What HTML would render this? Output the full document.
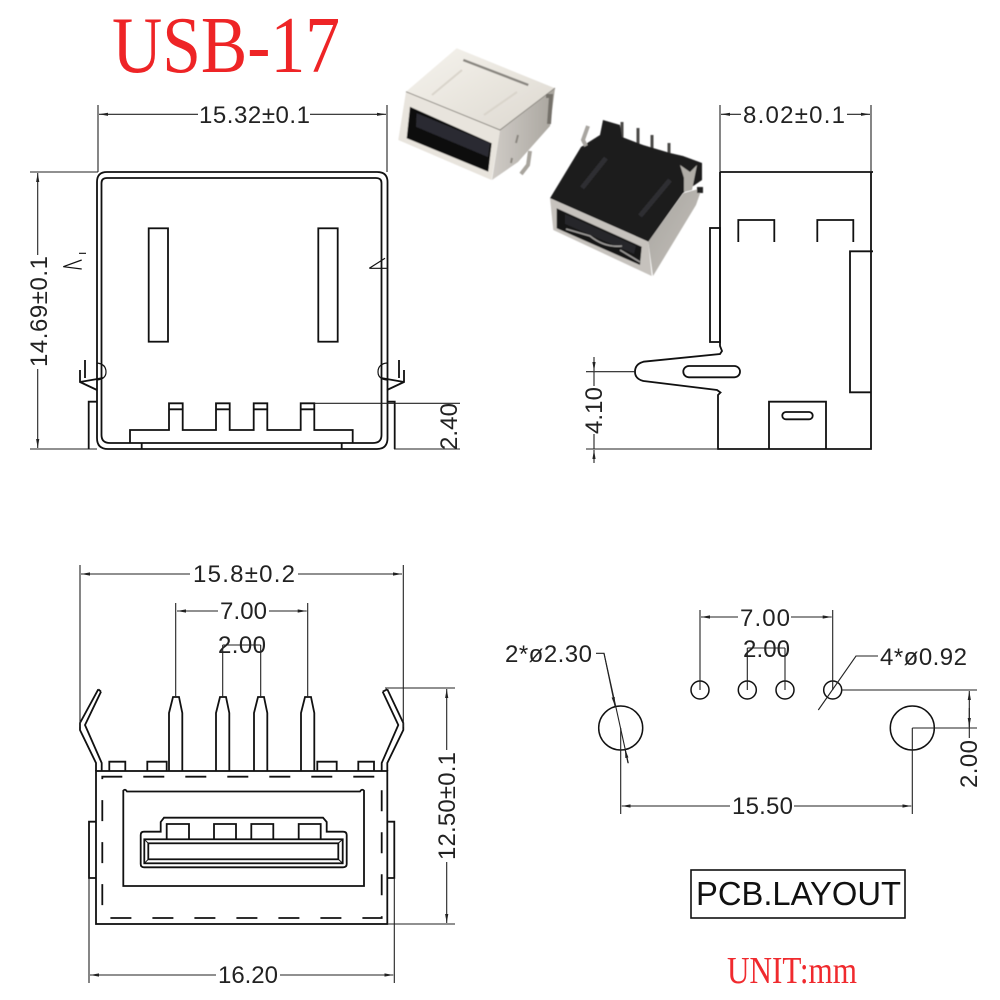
<!DOCTYPE html>
<html><head><meta charset="utf-8"><style>
html,body{margin:0;padding:0;background:#fff}
svg{display:block}
.m{fill:none;stroke:#111;stroke-width:1.8}
.t{fill:none;stroke:#222;stroke-width:1.1}
.ar{marker-end:url(#ah)}
.d{font-family:"Liberation Sans",sans-serif;font-size:24px;fill:#222}
</style></head><body>
<svg width="1000" height="1000" viewBox="0 0 1000 1000" xmlns="http://www.w3.org/2000/svg">
<defs>
<marker id="ah" markerUnits="userSpaceOnUse" markerWidth="10" markerHeight="6" refX="9" refY="2.5" orient="auto"><path d="M0 0.9L9 2.5L0 4.1z" fill="#222"/></marker>
<linearGradient id="s1" x1="0" y1="0" x2="1" y2="1"><stop offset="0" stop-color="#f6f3ed"/><stop offset="1" stop-color="#dcd8d0"/></linearGradient>
<linearGradient id="s2" x1="0" y1="0" x2="1" y2="1"><stop offset="0" stop-color="#a8a5a0"/><stop offset="1" stop-color="#c5c1bb"/></linearGradient>
<linearGradient id="s3" x1="0" y1="0" x2="1" y2="0"><stop offset="0" stop-color="#cfcbc6"/><stop offset="1" stop-color="#a9a59e"/></linearGradient>
<filter id="b" x="-5%" y="-5%" width="110%" height="110%"><feGaussianBlur stdDeviation="0.6"/></filter>
</defs>

<!-- title -->
<text x="112" y="72" textLength="228" lengthAdjust="spacingAndGlyphs" font-family="Liberation Serif,serif" font-size="80" fill="#ee2426">USB-17</text>

<!-- photo 1 -->
<g filter="url(#b)">
<polygon points="456.7,48.3 555,88.3 500,130 406,91.7" fill="url(#s1)"/>
<polygon points="406,91.7 500,130 491.5,180 398.3,140" fill="#e8e4dd"/>
<polygon points="500,130 555,88.3 550,126 518,162 492,180" fill="url(#s3)"/>
<polygon points="410,106.7 491.7,143.3 488.3,171.7 406.7,138.3" fill="#0f0f0f"/>
<polygon points="416.7,113.3 490,143.3 488,157 416,126.7" fill="#2c2c33"/>
<path d="M463.3,60L528.3,85" stroke="#8a8781" stroke-width="2.4" fill="none"/>
<path d="M406,91.7L500,130L555,88" stroke="#8f8b84" stroke-width="1" fill="none"/>
<path d="M432,95L462,70M484,115L517,92" stroke="#d9d4cb" stroke-width="2" fill="none"/>
<path d="M546,96L551,96L549,124" stroke="#75716b" stroke-width="4" fill="none"/>
<path d="M530,151L528,165L521,174" stroke="#a8a49d" stroke-width="4" fill="none"/>
<path d="M518,135L516,143M512,158L511,163" stroke="#8a867f" stroke-width="2" fill="none"/>
</g>
<!-- photo 2 -->
<g filter="url(#b)">
<path d="M622,122V140M638,128V148M652,135V154M669,143V162" stroke="#4b4846" stroke-width="3" fill="none"/>
<polygon points="648.3,241.7 683.3,193.3 702,188 696,205 653,276" fill="url(#s2)"/>
<polygon points="603,120 620,125 622,137 643,145 670,153 683,156 702,163 702,180 683,193 648.3,241.7 550,198.3 581,147 600,135" fill="#1b1b1c"/>
<polygon points="550,198.3 648.3,241.7 651.7,276 553.3,230" fill="#c6c2bd"/>
<polygon points="556.7,208.3 641.7,246.7 640,265 556.7,228.3" fill="#141414"/>
<polygon points="565,214 636,246 634,254 565,224" fill="#26262a"/>
<path d="M566,229L590,236Q605,248 622,246M620,250L640,262" stroke="#9c9a98" stroke-width="1.6" fill="none"/>
<path d="M606,158L582,188M670,180L640,216" stroke="#2e2e30" stroke-width="5" fill="none"/>
<path d="M588,126L583,140L586,146" stroke="#a8a5a0" stroke-width="4" fill="none"/>
<polygon points="680,165 690,172 697,165 692,190 684,192 684,178" fill="#b0ada7"/>
<rect x="697" y="187" width="6" height="6" fill="#222"/>
</g>

<!-- Front view (top-left) -->
<g class="m">
<path d="M97,182Q97,172 107,172H377Q387.5,172 387.5,182V438Q387.5,449 377,449H108Q97,449 97,438Z"/>
<path d="M101.5,183Q101.5,178 107,178H376Q381.5,178 381.5,183V435Q381.5,443 373,443H110Q101.5,443 101.5,435Z"/>
<rect x="148.7" y="228.3" width="19.3" height="113.4"/>
<rect x="318.3" y="228.3" width="19.4" height="113.4"/>
<path d="M97,401.7H88.7V449M387.5,401.7H394.7V449"/>
<path d="M130,443V430H169V403.3H182.7V430H216V403.3H229.7V430H253.7V403.3H267.3V430H300.7V403.3H314.3V430H352.7V443"/>
<path d="M169,409.3H182.7M216,409.3H229.7M253.7,409.3H267.3M300.7,409.3H314.3"/>
<path d="M141.7,443V449M341.7,443V449"/>
<path d="M85,360V378M80,370V382L97,390M80,382L103,378"/>
<path d="M399,360V378M404,370V382L387,390M404,382L381,378"/>
<path d="M97,363Q106,364 106,372Q106,379 97,380" stroke-width="1.2"/>
<path d="M387,363Q378,364 378,372Q378,379 387,380" stroke-width="1.2"/>
<path d="M81.7,260L63.3,266.7L81.7,269M79,253.3H86" stroke-width="1.2"/>
<path d="M369.3,268.3H386.7M385,258.3L369.3,268.3" stroke-width="1.2"/>
</g>
<g class="t">
<path d="M98,105V172M387,105V172M30,172H98M30,449H97"/>
<path class="ar" d="M198,114.3H99"/><path class="ar" d="M310,114.3H386"/>
<path class="ar" d="M37.7,255V173"/><path class="ar" d="M37.7,369V448"/>
<path d="M314,403.3H460M394,449H460"/>
</g>
<text class="d" x="199" y="123" textLength="111">15.32±0.1</text>
<text class="d" transform="translate(47,367) rotate(-90)" textLength="111">14.69±0.1</text>
<text class="d" transform="translate(457,450) rotate(-90)" textLength="47">2.40</text>

<!-- Side view -->
<g class="m">
<path d="M720,172H873M871,172V449H718V395L720.5,392.5L717,390L643.5,381Q635,379 635,371.7Q635,364 643.5,361.7L720,354L722,351L720,346V172"/>
<rect x="710" y="228" width="10" height="114"/>
<path d="M738.3,242V220H774.3V242M817.3,242V220H853.3V242"/>
<path d="M873,251.3H850V392.3H871"/>
<rect x="683.3" y="366" width="56.7" height="11.3" rx="5.6"/>
<path d="M769,449V401.7H826V449"/>
<rect x="782.3" y="412" width="30.4" height="7.3" rx="3.6"/>
</g>
<g class="t">
<path d="M720,105V172M871,105V172"/>
<path class="ar" d="M741,114.3H721"/><path class="ar" d="M847,114.3H870"/>
<path d="M586,371.7H635M586,449H718"/>
<path class="ar" d="M594,357V371"/><path class="ar" d="M594,463V450"/>
<path d="M594,372V386M594,434V449"/>
</g>
<text class="d" x="743" y="123" textLength="102">8.02±0.1</text>
<text class="d" transform="translate(602,434) rotate(-90)" textLength="47">4.10</text>

<!-- Bottom-left view -->
<g class="m">
<rect x="96" y="771" width="291.3" height="153"/>
<path d="M98.3,689.3L80,723V730L96,763V771M101,691.7L85,725L101.7,763V771M98.3,689.3L101,691.7"/>
<path d="M387.3,689.3L403.3,723V730L387.3,763V771M382.7,691.7L398.3,725L381.7,763V771M387.3,689.3L382.7,691.7"/>
<path d="M169,771V713L173,697H179L182.3,713V771"/>
<path d="M216,771V713L220,697H226L229.3,713V771"/>
<path d="M254,771V713L258,697H264L267.3,713V771"/>
<path d="M301,771V713L305,697H311L314.3,713V771"/>
<path d="M109.3,771V761.7H125.3V771M147.3,771V761.7H166.7V771M317.3,771V761.7H336.7V771M358.3,771V761.7H374V771"/>
<path d="M96,821.7H89V878H96M387.3,821.7H394.3V878H387.3"/>
<path d="M123.3,886V790.7Q125,788.5 127,791.5H360Q362,788.5 364,790.7V886Z"/>
<path d="M144,867.3Q140.7,867.3 140.7,864V835Q140.7,831.7 144,831.7H160.7V822L164,817.7H323L326.7,822V831.7H343Q346.7,831.7 346.7,835V864Q346.7,867.3 343,867.3Z"/>
<path d="M166.7,839.3V824H189V839.3M214,839.3V824H236V839.3M251.3,839.3V824H273.3V839.3M298.7,839.3V824H320.7V839.3"/>
<rect x="144.3" y="839.3" width="198.4" height="24"/>
<rect x="148.3" y="843.3" width="190" height="16"/>
<path d="M144.3,839.3L148.3,843.3M342.7,839.3L338.3,843.3M144.3,863.3L148.3,859.3M342.7,863.3L338.3,859.3" stroke-width="1"/>
<path d="M102.3,776.7H381.7V918H102.3Z" stroke-dasharray="21 21" stroke-dashoffset="1"/>
</g>
<g class="t">
<path d="M80,565V727M403.3,565V727"/>
<path class="ar" d="M190,574H81"/><path class="ar" d="M298,574H402"/>
<path d="M175.7,603V697M307.7,603V697"/>
<path class="ar" d="M218,611H177"/><path class="ar" d="M269,611H306.7"/>
<path d="M222.7,645V697M260.7,645V697M222.7,645H260.7"/>
<path d="M385,688H455M387,924H455"/>
<path class="ar" d="M446.7,750V689"/><path class="ar" d="M446.7,862V923"/>
<path d="M89,878V983M394.3,878V983"/>
<path class="ar" d="M216,975H90"/><path class="ar" d="M280,975H393.3"/>
</g>
<text class="d" x="193" y="582" textLength="102">15.8±0.2</text>
<text class="d" x="220" y="619" textLength="47">7.00</text>
<text class="d" x="218" y="653" textLength="48">2.00</text>
<text class="d" transform="translate(455,860) rotate(-90)" textLength="108">12.50±0.1</text>
<text class="d" x="218" y="983" textLength="60">16.20</text>

<!-- PCB layout -->
<g class="m" style="stroke-width:1.5">
<circle cx="700" cy="690" r="9"/><circle cx="747.3" cy="690" r="9"/><circle cx="785" cy="690" r="9"/><circle cx="832.7" cy="690" r="9"/>
<circle cx="620.7" cy="728" r="22"/><circle cx="912.3" cy="728" r="22"/>
</g>
<g class="t">
<path d="M700,610V690M832.7,610V690"/>
<path class="ar" d="M738,617H701"/><path class="ar" d="M791,617H831.7"/>
<path d="M747.3,648V690M785,648V690M747.3,648H785"/>
<path d="M596,653.3H604L628.3,763.3"/>
<path class="ar" d="M604,653.3L615,706"/>
<path class="ar" d="M628,763L625,749"/>
<path d="M878,656H856L818.3,710"/>
<path d="M620.7,728V814M912.3,728V814"/>
<path class="ar" d="M730,806H621.7"/><path class="ar" d="M794,806H911.3"/>
<path d="M841,690H977M912.3,728H977"/>
<path class="ar" d="M969.3,710V691"/>
<path d="M969.3,708V738"/>
<path class="ar" d="M969.3,710V727"/>
</g>
<text class="d" x="505" y="662" textLength="87">2*ø2.30</text>
<text class="d" x="740" y="626" textLength="50">7.00</text>
<text class="d" x="743" y="657" textLength="47">2.00</text>
<text class="d" x="880" y="665" textLength="87">4*ø0.92</text>
<text class="d" x="732" y="814" textLength="61">15.50</text>
<text class="d" transform="translate(977,788) rotate(-90)" textLength="48">2.00</text>

<rect x="691" y="870" width="214" height="48" fill="none" stroke="#111" stroke-width="1.6"/>
<text x="696" y="905" textLength="205" lengthAdjust="spacingAndGlyphs" font-family="Liberation Sans,sans-serif" font-size="33" fill="#111">PCB.LAYOUT</text>
<text x="727" y="983" textLength="130" lengthAdjust="spacingAndGlyphs" font-family="Liberation Serif,serif" font-size="38" fill="#f02a2e">UNIT:mm</text>
</svg>
</body></html>
